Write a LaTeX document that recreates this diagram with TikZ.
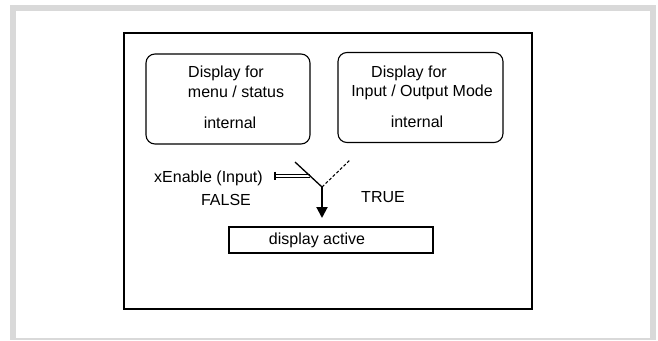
\documentclass[tikz,border=0pt]{standalone}
\usepackage{fontspec}
\setmainfont{Liberation Sans}
\usepackage{xcolor}
\usetikzlibrary{arrows.meta}
\usetikzlibrary{calc, positioning}
\definecolor{framegray}{RGB}{217,217,217}
\tikzstyle{dispbox}=[rectangle, draw, rounded corners=9pt, line width=1.1pt, minimum width=164pt, minimum height=90pt, inner sep=0pt]
\tikzstyle{activebox}=[rectangle, draw, line width=1.1pt, minimum width=204pt, minimum height=26pt, inner sep=0pt]
\tikzstyle{txt}=[anchor=base, inner sep=0pt]

\begin{document}
\begin{tikzpicture}[x=1pt, y=-1pt]

\tikzset{every node/.style={font=\fontsize{16pt}{19pt}\selectfont}}

% Page frame
\useasboundingbox (0,0) rectangle (658,340);
\fill[framegray] (10,5) rectangle (656,340);
\fill[white] (16,11) rectangle (650,338);

% Outer border
\draw[line width=2.5pt] (124,33) rectangle (532,309);

% Display boxes
\node[dispbox] (menu) at (228,99) {};
\node[dispbox, minimum width=165pt] (iomode) at (420.5,97.5) {};

\node[txt] (menu1) at (226,77) {Display for};
\node[txt] (menu2) at (236,97) {menu / status};
\node[txt] (menu3) at (230,128) {internal};

\node[txt] (io1) at (409,77) {Display for};
\node[txt] (io2) at (422,96) {Input / Output Mode};
\node[txt] (io3) at (417,127) {internal};

% Switch
\coordinate (pivot) at (322,187);
\coordinate (swtop) at (295,162);
\coordinate (swdash) at (350,160);
\coordinate (enbar) at (275,175.5);
\coordinate (enend) at (310,175.5);
\coordinate (tip) at (322,218);

\node[txt, anchor=base west] (xen) at (154,182) {xEnable (Input)};
\node[txt] (false) at (226,205) {FALSE};
\node[txt] (true) at (383,202) {TRUE};

\draw[line width=1pt, double, double distance=2pt] (enbar) -- (enend);
\draw[line width=1.2pt] ($(enbar)+(0,-4)$) -- ($(enbar)+(0,4.5)$);
\draw[line width=1.3pt] (swtop) -- (pivot);
\draw[line width=1.1pt, dash pattern=on 3pt off 2pt] (pivot) -- (swdash);
\draw[line width=2pt, -{Triangle[length=11pt, width=11pt]}] (pivot) -- (tip);

% Output
\node[activebox] (disp) at (331,240) {};
\node[txt] (disptext) at (317,244) {display active};

\end{tikzpicture}
\end{document}
